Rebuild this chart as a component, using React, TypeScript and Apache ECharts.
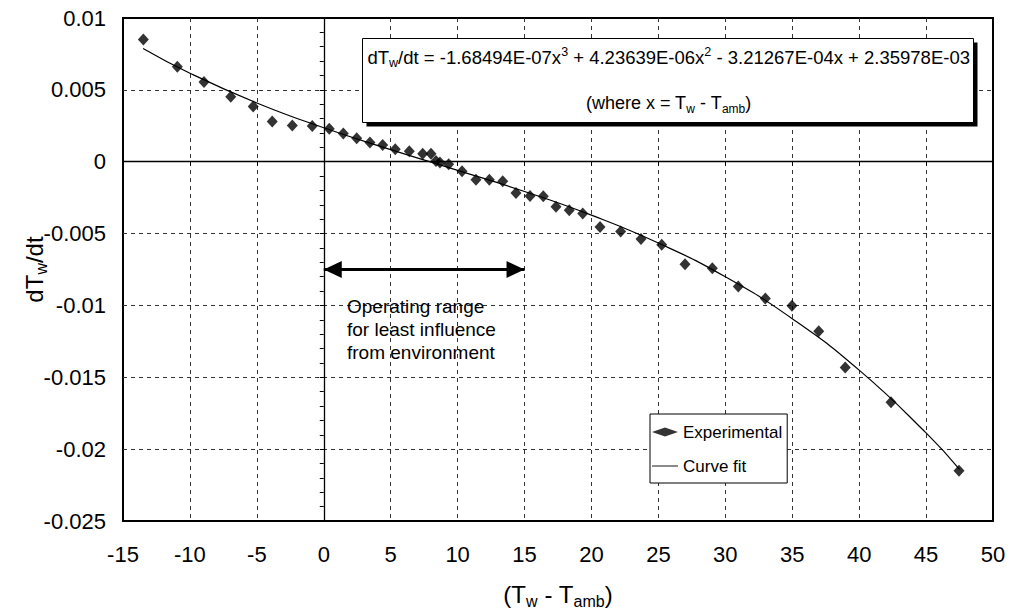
import { useEffect, useRef } from 'react';
import * as echarts from 'echarts';

// Experimental points: x = Tw - Tamb, y = dTw/dt
const expX = [-13.48, -10.94, -8.95, -6.95, -5.27, -3.85, -2.35, -0.86, 0.41, 1.46, 2.46, 3.45, 4.4, 5.34, 6.39, 7.39, 8.01, 8.38, 8.68, 9.33, 10.33, 11.37, 12.37, 13.37, 14.36, 15.41, 16.4, 17.35, 18.34, 19.35, 20.64, 22.18, 23.7, 25.25, 26.99, 29.03, 30.97, 32.99, 34.98, 36.98, 38.96, 42.38, 47.46];
const expY = [0.0085, 0.0066, 0.00555, 0.00452, 0.00385, 0.0028, 0.00252, 0.00248, 0.0023, 0.00197, 0.00163, 0.00133, 0.00117, 0.00087, 0.00072, 0.00056, 0.00056, 0.00005, -0.00005, -0.00017, -0.00067, -0.00125, -0.00125, -0.00136, -0.00218, -0.00238, -0.00241, -0.00314, -0.00337, -0.0036, -0.00455, -0.00485, -0.00538, -0.00577, -0.00714, -0.00741, -0.00868, -0.00952, -0.01003, -0.0118, -0.01432, -0.01673, -0.02151];

// Curve fit points (values of the stated cubic at these x)
const fitX = [-13.5, -10, -5, 0, 5, 10, 15, 20, 25, 30, 35, 40, 45, 47.5];
const fitY = [0.00788, 0.00616, 0.00409, 0.00236, 0.00084, -0.0006, -0.00207, -0.00372, -0.00566, -0.00801, -0.01092, -0.0145, -0.01887, -0.0214];

const xMin = -15, xMax = 50, xStep = 5;
const yMin = -0.025, yMax = 0.01, yStep = 0.005, yMinorStep = 0.001;

// Operating range arrow
const rangeFrom = 0, rangeTo = 15, rangeY = -0.0075;

const seriesNames = ['Experimental', 'Curve fit'];
const equationText = '{t|dT}{s|w}{t|/dt = -1.68494E-07x}{p|3}{t| + 4.23639E-06x}{p|2}{t| - 3.21267E-04x + 2.35978E-03}';
const whereText = '{t|(where x = T}{s|w}{t| - T}{s|amb}{t|)}';
const rangeNote = 'Operating range\nfor least influence\nfrom environment';

const FONT = "Arial, 'Liberation Sans', sans-serif";

export default function App() {
  const ref = useRef<HTMLDivElement>(null);
  useEffect(() => {
    if (!ref.current) return;
    const chart = echarts.init(ref.current, null, { renderer: 'svg' });
    const gridLine = { show: true, showMinLine: false, showMaxLine: false, lineStyle: { color: '#333', type: [4, 4], width: 1 } };
    const option: any = {
      animation: false,
      backgroundColor: '#fff',
      textStyle: { fontFamily: FONT, color: '#000' },
      grid: { left: 123, right: 21, top: 18, bottom: 87, show: true, borderColor: '#000', borderWidth: 2, backgroundColor: 'transparent' },
      legend: {
        data: [
          { name: seriesNames[0] },
          { name: seriesNames[1], icon: 'path://M0,0L40,0L40,1.4L0,1.4Z' },
        ],
        orient: 'vertical',
        left: 650,
        top: 414,
        itemWidth: 26,
        itemHeight: 9,
        itemGap: 14,
        padding: [8, 5, 7, 2],
        backgroundColor: '#fff',
        borderColor: '#000',
        borderWidth: 1,
        textStyle: { fontSize: 17, lineHeight: 20, color: '#000', fontFamily: FONT },
        z: 20,
      },
      xAxis: [
        {
          type: 'value', min: xMin, max: xMax, interval: xStep,
          axisLine: { show: false, onZero: false },
          axisTick: { show: false },
          axisLabel: { fontSize: 22, color: '#000', margin: 22, fontFamily: FONT },
          splitLine: gridLine,
          name: '{a|(T}{b|w}{a| - T}{b|amb}{a|)}',
          nameLocation: 'middle',
          nameGap: 58,
          nameMoveOverlap: false,
          nameTextStyle: {
            rich: {
              a: { fontSize: 24, lineHeight: 30, color: '#000', fontFamily: FONT },
              b: { fontSize: 16, lineHeight: 18, verticalAlign: 'bottom', color: '#000', fontFamily: FONT },
            },
          },
        },
        {
          type: 'value', min: xMin, max: xMax, interval: xStep, position: 'bottom',
          axisLine: { show: true, onZero: true, onZeroAxisIndex: 0, lineStyle: { color: '#000', width: 1.3 } },
          axisTick: { show: true, length: 4, lineStyle: { color: '#000' } },
          axisLabel: { show: false },
          splitLine: { show: false },
        },
      ],
      yAxis: [
        {
          type: 'value', min: yMin, max: yMax, interval: yStep,
          axisLine: { show: false, onZero: false },
          axisTick: { show: false },
          axisLabel: { fontSize: 22, color: '#000', margin: 17, fontFamily: FONT, formatter: (v: number) => String(+v.toFixed(3)) },
          splitLine: gridLine,
          name: '{a|dT}{b|w}{a|/dt}',
          nameLocation: 'middle',
          nameGap: 74,
          nameMoveOverlap: false,
          nameTextStyle: {
            rich: {
              a: { fontSize: 24, lineHeight: 30, color: '#000', fontFamily: FONT },
              b: { fontSize: 16, lineHeight: 18, verticalAlign: 'bottom', color: '#000', fontFamily: FONT },
            },
          },
        },
        {
          type: 'value', min: yMin, max: yMax, interval: yMinorStep, position: 'left',
          axisLine: { show: true, onZero: true, onZeroAxisIndex: 0, lineStyle: { color: '#000', width: 1.3 } },
          axisTick: { show: true, length: 4, lineStyle: { color: '#000' } },
          axisLabel: { show: false },
          splitLine: { show: false },
        },
      ],
      series: [
        {
          name: seriesNames[0],
          type: 'scatter',
          symbol: 'diamond',
          symbolSize: [11, 12],
          itemStyle: { color: '#000' },
          data: expX.map((x, i) => [x, expY[i]]),
          z: 5,
        },
        {
          name: seriesNames[1],
          type: 'line',
          smooth: true,
          symbol: 'none',
          lineStyle: { color: '#000', width: 1.2 },
          itemStyle: { color: '#000' },
          data: fitX.map((x, i) => [x, fitY[i]]),
          z: 4,
          markLine: {
            silent: true,
            symbol: ['triangle', 'triangle'],
            symbolSize: [17, 18],
            symbolOffset: [[0, 9], [0, 9]],
            label: { show: false },
            lineStyle: { color: '#000', width: 3, type: 'solid' },
            itemStyle: { color: '#000' },
            data: [[{ coord: [rangeFrom, rangeY] }, { coord: [rangeTo, rangeY] }]],
          },
        },
      ],
      graphic: [
        {
          type: 'group', left: 362, top: 38, z: 30,
          children: [
            { type: 'rect', shape: { x: 4, y: 4, width: 611, height: 84 }, style: { fill: '#000' }, z: 30 },
            { type: 'rect', shape: { x: 0, y: 0, width: 611, height: 84 }, style: { fill: '#fff', stroke: '#000', lineWidth: 1 }, z: 31 },
            {
              type: 'text', x: 5, y: 19, z: 32,
              style: {
                text: equationText, verticalAlign: 'middle', align: 'left',
                rich: {
                  t: { fontSize: 18.5, lineHeight: 24, fill: '#000', fontFamily: FONT },
                  s: { fontSize: 12.5, lineHeight: 14, verticalAlign: 'bottom', fill: '#000', fontFamily: FONT },
                  p: { fontSize: 12.5, lineHeight: 14, verticalAlign: 'top', fill: '#000', fontFamily: FONT },
                },
              },
            },
            {
              type: 'text', x: 306, y: 64, z: 32,
              style: {
                text: whereText, verticalAlign: 'middle', align: 'center',
                rich: {
                  t: { fontSize: 18, lineHeight: 24, fill: '#000', fontFamily: FONT },
                  s: { fontSize: 12, lineHeight: 14, verticalAlign: 'bottom', fill: '#000', fontFamily: FONT },
                },
              },
            },
          ],
        },
        {
          type: 'text', left: 347, top: 295, z: 30,
          style: { text: rangeNote, fontSize: 19, lineHeight: 23, fill: '#000', fontFamily: FONT },
        },
      ],
    };
    chart.setOption(option);
    return () => chart.dispose();
  }, []);
  return <div ref={ref} style={{ position: 'absolute', left: 0, top: 0, width: 1014, height: 614 }} />;
}
